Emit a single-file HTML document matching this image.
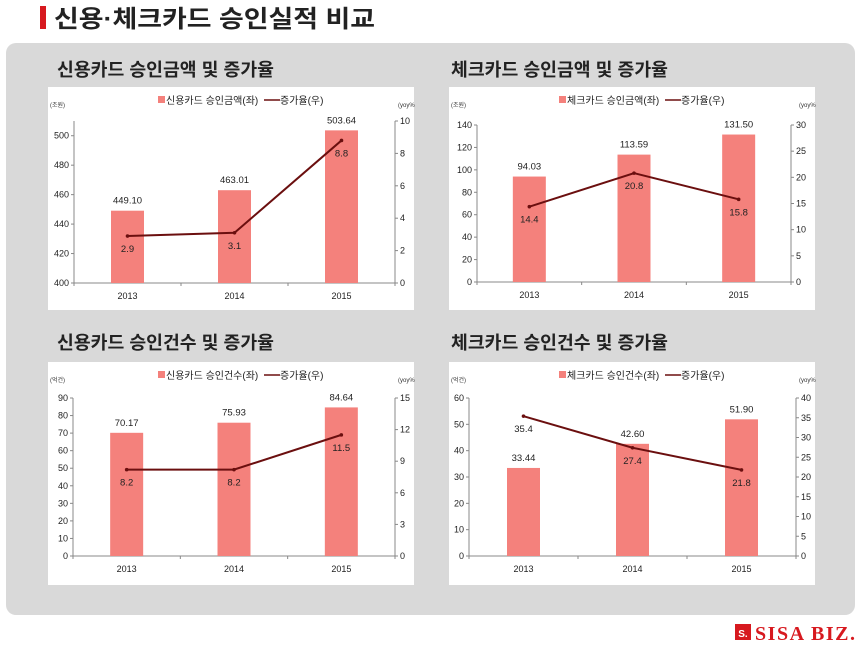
<!DOCTYPE html>
<html><head><meta charset="utf-8"><style>
body{margin:0;width:860px;height:652px;background:#fff;overflow:hidden;font-family:"Liberation Sans","Noto Sans CJK KR",sans-serif}
</style></head><body>
<svg id="s" width="860" height="652" xmlns="http://www.w3.org/2000/svg" font-family="'Liberation Sans','Noto Sans CJK KR',sans-serif"></svg>
<script>
var o='';
o+='<rect x="40" y="6" width="6" height="23" fill="#d7191f"/>';
o+='<text x="54" y="27" font-size="24" font-weight="bold" fill="#222" textLength="321" lengthAdjust="spacingAndGlyphs">신용·체크카드 승인실적 비교</text>';
o+='<rect x="6" y="43" width="849" height="572" rx="10" fill="#d9d9d9"/>';
var hs=' font-size="18" font-weight="bold" fill="#222" textLength="217" lengthAdjust="spacingAndGlyphs"';
o+='<text x="57" y="76"'+hs+'>신용카드 승인금액 및 증가율</text>';
o+='<text x="451" y="76"'+hs+'>체크카드 승인금액 및 증가율</text>';
o+='<text x="57" y="349"'+hs+'>신용카드 승인건수 및 증가율</text>';
o+='<text x="451" y="349"'+hs+'>체크카드 승인건수 및 증가율</text>';
o+='<rect x="735" y="624" width="16" height="16" fill="#d7191f"/><text x="743" y="637" font-size="10" fill="#fff" text-anchor="middle" font-weight="bold">S.</text>';
o+='<text x="755" y="640" font-size="20" font-weight="bold" fill="#d7191f" font-family="Liberation Serif,serif" textLength="100">SISA BIZ.</text>';
function chart(c){
 var bx=c.bx,by=c.by,L=c.L,R=c.R,T=c.T,B=c.B;
 o+='<rect x="'+bx+'" y="'+by+'" width="366" height="223" fill="#fff"/>';
 var lx=bx+110;
 o+='<rect x="'+(lx)+'" y="'+(by+9)+'" width="7" height="7" fill="#f4817c"/>';
 o+='<text x="'+(lx+8)+'" y="'+(by+17)+'" font-size="10" fill="#222">'+c.leg+'</text>';
 o+='<line x1="'+(lx+106)+'" y1="'+(by+13)+'" x2="'+(lx+122)+'" y2="'+(by+13)+'" stroke="#6b0f0f" stroke-width="1.5"/>';
 o+='<text x="'+(lx+122)+'" y="'+(by+17)+'" font-size="10" fill="#222">증가율(우)</text>';
 o+='<text x="'+(bx+2)+'" y="'+(by+20)+'" font-size="6" fill="#333">'+c.unit+'</text>';
 o+='<text x="'+(bx+350)+'" y="'+(by+20)+'" font-size="6" fill="#333">(yoy%</text>';
 o+='<line x1="'+L+'" y1="'+T+'" x2="'+L+'" y2="'+B+'" stroke="#888"/>';
 o+='<line x1="'+R+'" y1="'+T+'" x2="'+R+'" y2="'+B+'" stroke="#888"/>';
 o+='<line x1="'+L+'" y1="'+B+'" x2="'+R+'" y2="'+B+'" stroke="#888"/>';
 c.lt.forEach(function(v){var y=B-(v-c.lmin)/(c.lmax-c.lmin)*(B-T);
  o+='<line x1="'+(L-3)+'" y1="'+y+'" x2="'+L+'" y2="'+y+'" stroke="#888"/>';
  o+='<text x="'+(L-5)+'" y="'+(y+3)+'" font-size="9" text-anchor="end" fill="#222">'+v+'</text>';});
 c.rt.forEach(function(v){var y=B-v/c.rmax*(B-T);
  o+='<line x1="'+R+'" y1="'+y+'" x2="'+(R+3)+'" y2="'+y+'" stroke="#888"/>';
  o+='<text x="'+(R+5)+'" y="'+(y+3)+'" font-size="9" fill="#222">'+v+'</text>';});
 var w=(R-L)/3;
 for(var k=0;k<=3;k++){o+='<line x1="'+(L+w*k)+'" y1="'+B+'" x2="'+(L+w*k)+'" y2="'+(B+3)+'" stroke="#888"/>';}
 var pts=[];
 for(var j=0;j<3;j++){var cx=L+w*(j+0.5);
  var bh=(c.bv[j]-c.lmin)/(c.lmax-c.lmin)*(B-T);
  o+='<rect x="'+(cx-16.5)+'" y="'+(B-bh)+'" width="33" height="'+bh+'" fill="#f4817c"/>';
  o+='<text x="'+cx+'" y="'+(B-bh-7)+'" font-size="9.5" text-anchor="middle" fill="#222">'+c.bl[j]+'</text>';
  o+='<text x="'+cx+'" y="'+(B+16)+'" font-size="9" text-anchor="middle" fill="#222">'+(2013+j)+'</text>';
  var py=B-c.lv[j]/c.rmax*(B-T);pts.push(cx+','+py);
  o+='<text x="'+cx+'" y="'+(py+c.off)+'" font-size="9.5" text-anchor="middle" fill="#222">'+c.lv[j].toFixed(1)+'</text>';}
 o+='<polyline points="'+pts.join(' ')+'" fill="none" stroke="#6b0f0f" stroke-width="2"/>';
 pts.forEach(function(p){var a=p.split(',');o+='<circle cx="'+a[0]+'" cy="'+a[1]+'" r="1.8" fill="#6b0f0f"/>';});
}
chart({bx:48,by:87,L:74,R:395,T:121,B:283,leg:'신용카드 승인금액(좌)',unit:'(조원)',lt:[400,420,440,460,480,500],rt:[0,2,4,6,8,10],lmin:400,lmax:510,rmax:10,bv:[449.1,463.01,503.64],bl:['449.10','463.01','503.64'],lv:[2.9,3.1,8.8],off:16});
chart({bx:449,by:87,L:477,R:791,T:125,B:282,leg:'체크카드 승인금액(좌)',unit:'(조원)',lt:[0,20,40,60,80,100,120,140],rt:[0,5,10,15,20,25,30],lmin:0,lmax:140,rmax:30,bv:[94.03,113.59,131.5],bl:['94.03','113.59','131.50'],lv:[14.4,20.8,15.8],off:16});
chart({bx:48,by:362,L:73,R:395,T:398,B:556,leg:'신용카드 승인건수(좌)',unit:'(억건)',lt:[0,10,20,30,40,50,60,70,80,90],rt:[0,3,6,9,12,15],lmin:0,lmax:90,rmax:15,bv:[70.17,75.93,84.64],bl:['70.17','75.93','84.64'],lv:[8.2,8.2,11.5],off:16});
chart({bx:449,by:362,L:469,R:796,T:398,B:556,leg:'체크카드 승인건수(좌)',unit:'(억건)',lt:[0,10,20,30,40,50,60],rt:[0,5,10,15,20,25,30,35,40],lmin:0,lmax:60,rmax:40,bv:[33.44,42.6,51.9],bl:['33.44','42.60','51.90'],lv:[35.4,27.4,21.8],off:16});
document.getElementById('s').innerHTML=o;
</script>
</body></html>
